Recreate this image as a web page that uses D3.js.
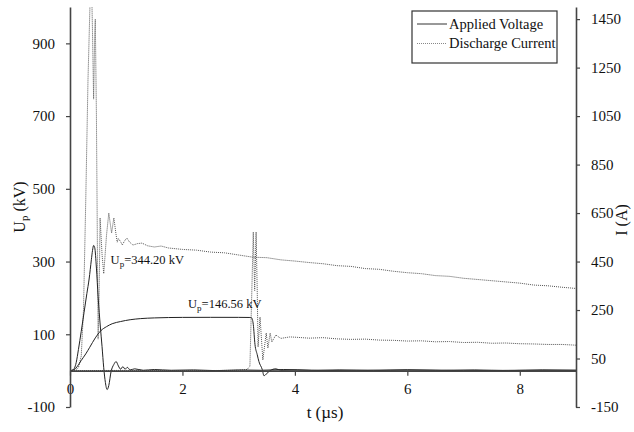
<!DOCTYPE html>
<html>
<head>
<meta charset="utf-8">
<script src="https://cdn.jsdelivr.net/npm/d3@7"></script>
<style>
  body { margin: 0; background: #fff; }
  svg text { font-family: "Liberation Serif", "Times New Roman", serif; fill: #111; }
</style>
</head>
<body>
<svg id="chart"></svg>
<script>
// tick values
const timeTicks = [0, 2, 4, 6, 8];
const voltageTicks = [-100, 100, 300, 500, 700, 900];
const currentTicks = [-150, 50, 250, 450, 650, 850, 1050, 1250, 1450];

// [t (µs), U (kV)] - fast breakdown shot
const voltageFast = [[0,0],[0.05,2],[0.08,7],[0.11,22],[0.15,58],[0.2,108],[0.25,160],[0.3,212],[0.34,252],[0.38,305],[0.4,330],[0.42,344.2],[0.44,338],[0.47,282],[0.5,203],[0.54,120],[0.57,66],[0.6,8],[0.63,-33],[0.66,-52],[0.69,-41],[0.73,-3],[0.78,17],[0.82,25],[0.86,13],[0.9,4],[0.94,11],[0.98,4],[1.02,9],[1.07,2],[1.15,5],[1.3,1],[1.5,3],[1.8,1],[2.2,2],[2.6,0],[3.0,2],[3.4,1],[3.8,3],[4.3,1],[4.8,2],[5.4,0],[6.0,2],[6.6,1],[7.2,2],[7.8,0],[8.4,2],[9.0,1]];

// [t (µs), U (kV)] - slow front shot
const voltageSlow = [[0,0],[0.05,1],[0.1,6],[0.15,16],[0.2,28],[0.28,46],[0.35,64],[0.45,90],[0.55,110],[0.65,121],[0.75,129],[0.9,135],[1.07,140],[1.25,143],[1.5,145],[1.75,146],[2.0,146.4],[2.5,146.56],[3.0,146.5],[3.2,146.2],[3.23,145],[3.26,127],[3.29,72],[3.33,44],[3.36,25],[3.42,3],[3.45,-14],[3.5,-8],[3.56,0],[3.66,5],[3.75,1],[4.0,2],[4.5,0],[5.0,1],[6.0,2],[7.0,0],[8.0,1],[9.0,1]];

// [t (µs), I (A)]
const currentFast = [[0,0],[0.1,3],[0.15,12],[0.2,60],[0.24,250],[0.28,700],[0.32,1200],[0.36,1550],[0.38,1640],[0.4,1400],[0.42,1120],[0.44,1390],[0.45,1450],[0.47,1050],[0.49,420],[0.5,130],[0.515,260],[0.535,630],[0.57,480],[0.6,400],[0.65,560],[0.69,650],[0.72,600],[0.74,568],[0.78,630],[0.82,560],[0.84,530],[0.86,545],[0.9,532],[0.93,518],[0.97,535],[1.01,547],[1.06,530],[1.12,518],[1.2,524],[1.28,526],[1.38,515],[1.5,510],[1.62,514],[1.75,506],[2.0,500],[2.25,497],[2.5,489],[2.75,486],[3.0,477],[3.25,468],[3.5,466],[3.75,457],[4.0,452],[4.25,446],[4.5,441],[4.75,433],[5.0,430],[5.25,421],[5.5,418],[5.75,410],[6.0,404],[6.25,400],[6.5,392],[6.75,389],[7.0,381],[7.25,376],[7.5,371],[7.75,366],[8.0,361],[8.25,353],[8.5,350],[8.75,344],[9.0,339]];

const currentSlow = [[0,0],[1.0,1],[2.0,0],[3.0,1],[3.15,5],[3.2,18],[3.23,291],[3.26,572],[3.285,330],[3.31,572],[3.33,333],[3.345,98],[3.38,221],[3.43,44],[3.49,155],[3.52,93],[3.56,155],[3.59,118],[3.66,147],[3.75,133],[3.91,139],[4.0,138],[4.25,134],[4.5,136],[4.75,131],[5.0,129],[5.25,130],[5.5,126],[5.75,125],[6.0,122],[6.25,123],[6.5,119],[6.75,120],[7.0,116],[7.25,117],[7.5,113],[7.75,114],[8.0,111],[8.25,110],[8.5,108],[8.75,108],[9.0,105]];

const peakValues = ["344.20", "146.56"];
const legendNames = ["Applied Voltage", "Discharge Current"];

(function () {
    const W = 634, H = 432;
    const margin = { top: 7, right: 58, bottom: 25, left: 70 };
    const serif = '"Liberation Serif", "Times New Roman", serif';

    const svg = d3.select("#chart").attr("width", W).attr("height", H);

    const x = d3.scaleLinear().domain([0, 9]).range([margin.left, W - margin.right]);
    const yU = d3.scaleLinear().domain([-100, 1000]).range([H - margin.bottom, margin.top]);
    const yI = d3.scaleLinear().domain([-150, 1500]).range([H - margin.bottom, margin.top]);

    svg.append("clipPath").attr("id", "plot")
        .append("rect")
        .attr("x", margin.left).attr("y", margin.top)
        .attr("width", x.range()[1] - margin.left)
        .attr("height", H - margin.bottom - margin.top);

    const plot = svg.append("g").attr("clip-path", "url(#plot)");

    const lineU = d3.line().x(d => x(d[0])).y(d => yU(d[1])).curve(d3.curveMonotoneX);
    const lineI = d3.line().x(d => x(d[0])).y(d => yI(d[1]));

    // currents (dotted)
    [currentFast, currentSlow].forEach(s => {
        plot.append("path").datum(s)
            .attr("fill", "none")
            .attr("stroke", "#555")
            .attr("stroke-width", 1)
            .attr("stroke-dasharray", "1,1")
            .attr("d", lineI);
    });

    // voltages (solid)
    [voltageFast, voltageSlow].forEach(s => {
        plot.append("path").datum(s)
            .attr("fill", "none")
            .attr("stroke", "#222")
            .attr("stroke-width", 1)
            .attr("d", lineU);
    });

    // axes
    const fmt = d => String(d);
    const styleAxis = g => {
        g.attr("font-family", serif);
        g.select(".domain").attr("stroke", "#444").attr("stroke-width", 1.6);
        g.selectAll(".tick line").attr("stroke", "#444").attr("stroke-width", 1.2);
        g.selectAll(".tick text")
            .style("font-family", serif)
            .style("font-size", "15px")
            .attr("fill", "#111");
    };

    svg.append("g")
        .attr("transform", `translate(0,${yU(0)})`)
        .call(d3.axisBottom(x).tickValues(timeTicks).tickFormat(fmt).tickSize(5).tickPadding(8).tickSizeOuter(0))
        .call(styleAxis);

    svg.append("g")
        .attr("transform", `translate(${margin.left},0)`)
        .call(d3.axisLeft(yU).tickValues(voltageTicks).tickFormat(fmt).tickSize(4).tickPadding(11).tickSizeOuter(0))
        .call(styleAxis);

    svg.append("g")
        .attr("transform", `translate(${x.range()[1]},0)`)
        .call(d3.axisRight(yI).tickValues(currentTicks).tickFormat(fmt).tickSize(4).tickPadding(11).tickSizeOuter(0))
        .call(styleAxis);

    // axis titles
    const yTitle = svg.append("text")
        .attr("transform", `translate(25,${(margin.top + H - margin.bottom) / 2}) rotate(-90)`)
        .attr("text-anchor", "middle")
        .style("font-size", "16px");
    yTitle.append("tspan").text("U");
    yTitle.append("tspan").attr("dy", 3).style("font-size", "11px").text("p");
    yTitle.append("tspan").attr("dy", -3).text(" (kV)");

    svg.append("text")
        .attr("transform", `translate(627,220) rotate(-90)`)
        .attr("text-anchor", "middle")
        .style("font-size", "16px")
        .text("I (A)");

    svg.append("text")
        .attr("x", 325).attr("y", 418)
        .attr("text-anchor", "middle")
        .style("font-size", "17px")
        .text("t (\u00b5s)");

    // peak annotations
    const peakFast = voltageFast.reduce((a, b) => (b[1] > a[1] ? b : a));
    const annot = [
        { v: peakValues[0], px: x(peakFast[0]) + 17, py: yU(peakFast[1]) + 19 },
        { v: peakValues[1], px: x(2.1), py: yU(+peakValues[1]) - 9 }
    ];
    annot.forEach(a => {
        const t = svg.append("text").attr("x", a.px).attr("y", a.py).style("font-size", "12.5px");
        t.append("tspan").text("U");
        t.append("tspan").attr("dy", 3).style("font-size", "9px").text("p");
        t.append("tspan").attr("dy", -3).text("=" + a.v + " kV");
    });

    // legend
    const lg = svg.append("g");
    lg.append("rect")
        .attr("x", 412).attr("y", 11).attr("width", 145).attr("height", 52)
        .attr("fill", "#fff").attr("stroke", "#333").attr("stroke-width", 1.2);
    legendNames.forEach((name, i) => {
        const yy = 24 + i * 19.5;
        lg.append("line")
            .attr("x1", 417).attr("x2", 447).attr("y1", yy).attr("y2", yy)
            .attr("stroke", i === 0 ? "#333" : "#888")
            .attr("stroke-width", 1)
            .attr("stroke-dasharray", i === 0 ? null : "1,1");
        lg.append("text")
            .attr("x", 449).attr("y", yy + 4.5)
            .style("font-size", "14.5px")
            .text(name);
    });
})();
</script>
</body>
</html>
